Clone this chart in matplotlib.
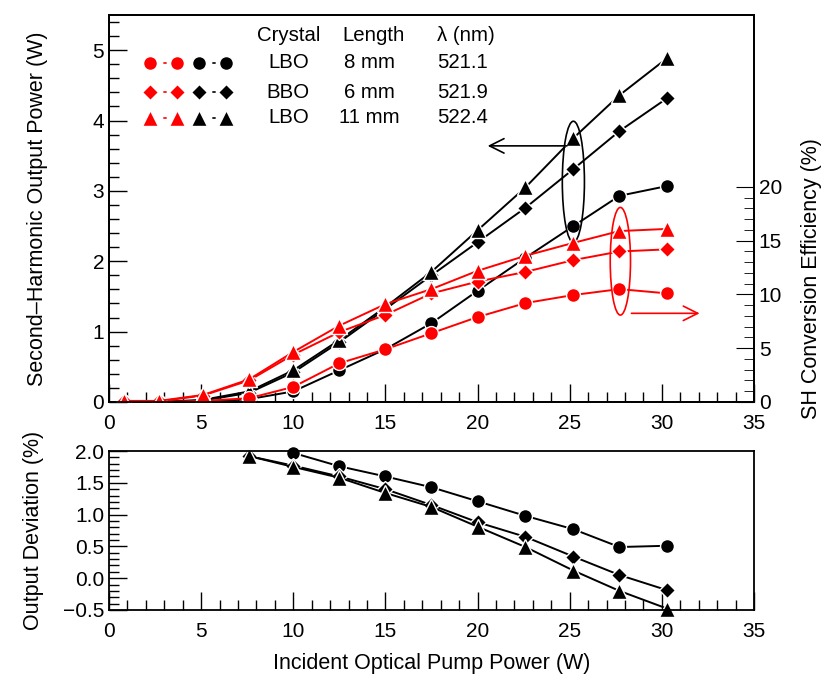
import numpy as np
import matplotlib
matplotlib.use("Agg")
import matplotlib.pyplot as plt
from matplotlib.patches import Ellipse
from matplotlib.ticker import MultipleLocator

plt.rcParams['font.family'] = ['Liberation Sans', 'DejaVu Sans']
plt.rcParams['font.size'] = 15

# incident pump power (W)
pump = [0.8, 2.7, 5.1, 7.6, 10.0, 12.5, 15.0, 17.5, 20.0, 22.6, 25.2, 27.7, 30.3]

# SH output power (W), left axis
power_lbo8 = [0.0, 0.0, 0.0, 0.04, 0.15, 0.45, 0.75, 1.12, 1.58, 2.05, 2.5, 2.93, 3.07]
power_bbo6 = [0.0, 0.0, 0.02, 0.13, 0.42, 0.85, 1.32, 1.8, 2.27, 2.76, 3.31, 3.85, 4.32]
power_lbo11 = [0.0, 0.0, 0.03, 0.15, 0.45, 0.88, 1.35, 1.85, 2.44, 3.05, 3.75, 4.36, 4.89]

# SH conversion efficiency (%), right axis
eff_lbo8 = [0.0, 0.0, 0.1, 0.35, 1.4, 3.6, 4.9, 6.4, 7.9, 9.2, 9.95, 10.5, 10.1]
eff_bbo6 = [0.05, 0.05, 0.6, 2.0, 4.4, 6.5, 8.1, 10.1, 11.2, 12.1, 13.2, 14.0, 14.2]
eff_lbo11 = [0.1, 0.1, 0.65, 2.1, 4.65, 7.1, 9.1, 10.5, 12.2, 13.6, 14.8, 15.9, 16.1]

# output deviation (%), lower panel
dev_pump = [7.6, 10.0, 12.5, 15.0, 17.5, 20.0, 22.6, 25.2, 27.7, 30.3]
dev_lbo8 = [np.nan, 1.97, 1.76, 1.6, 1.43, 1.21, 0.98, 0.77, 0.49, 0.51]
dev_bbo6 = [1.92, 1.77, 1.6, 1.4, 1.15, 0.88, 0.65, 0.34, 0.05, -0.19]
dev_lbo11 = [1.92, 1.75, 1.58, 1.34, 1.12, 0.81, 0.49, 0.12, -0.2, -0.48]

crystals = ["LBO", "BBO", "LBO"]
lengths = ["8 mm", "6 mm", "11 mm"]
wavelengths = ["521.1", "521.9", "522.4"]
markers = ["o", "D", "^"]
msizes = [10, 8.5, 11]

RED = "#ff0000"
EFF_MAX = 36.0
POW_MAX = 5.5


def style_ticks(ax):
    ax.tick_params(which="both", direction="in", top=False, right=False, labelsize=15)
    ax.tick_params(axis="x", which="both", pad=9)
    ax.tick_params(which="major", length=13, width=1)
    ax.tick_params(which="minor", length=7, width=1)


fig = plt.figure(figsize=(8.28, 6.82), dpi=100)
ax = fig.add_axes([0.1316, 0.4106, 0.779, 0.5674])
ax2 = ax.twinx()
axb = fig.add_axes([0.1316, 0.1056, 0.779, 0.2331])

# black = power (left axis)
for y, m, s in zip([power_lbo8, power_bbo6, power_lbo11], markers, msizes):
    ax.plot(pump, y, color="black", lw=1.4, marker=m, ms=s, mfc="black",
            mec="white", mew=1.0)

# red = efficiency (right axis)
for y, m, s in zip([eff_lbo8, eff_bbo6, eff_lbo11], markers, msizes):
    ax2.plot(pump, y, color=RED, lw=1.4, marker=m, ms=s, mfc=RED,
             mec="white", mew=1.0)

ax.set_xlim(0, 35)
ax.set_ylim(0, POW_MAX)
ax2.set_ylim(0, EFF_MAX)
ax.xaxis.set_major_locator(MultipleLocator(5))
ax.xaxis.set_minor_locator(MultipleLocator(1))
ax.yaxis.set_major_locator(MultipleLocator(1))
ax.yaxis.set_minor_locator(MultipleLocator(0.2))
ax2.set_yticks([0, 5, 10, 15, 20])
ax2.set_yticks(np.arange(0, 21, 1), minor=True)
style_ticks(ax)
ax2.tick_params(which="both", direction="in", right=True, labelsize=15)
ax2.tick_params(which="major", length=13)
ax2.tick_params(which="minor", length=7)

ax.set_ylabel("Second\u2013Harmonic Output Power (W)", fontsize=15.5)
ax.yaxis.set_label_coords(-0.095, 0.5)
ax2.set_ylabel("SH Conversion Efficiency (%)", fontsize=15.5)
ax2.yaxis.set_label_coords(1.073, 0.32)

# ellipses and arrows
arrow = dict(arrowstyle="->", lw=1.2, mutation_scale=26)
ax.add_patch(Ellipse((25.2, 3.13), 1.2, 1.72, fill=False, ec="black", lw=1.2, zorder=5))
ax.annotate("", xy=(20.4, 3.64), xytext=(25.0, 3.64),
            arrowprops=dict(arrow, color="black"))
k = EFF_MAX / POW_MAX
ax2.add_patch(Ellipse((27.75, 2.0 * k), 1.1, 1.53 * k, fill=False, ec=RED, lw=1.2, zorder=5))
ax2.annotate("", xy=(32.2, 1.26 * k), xytext=(28.2, 1.26 * k),
             arrowprops=dict(arrow, color=RED))

# legend table
rows_y = [0.876, 0.801, 0.734]
for yy, m, s in zip(rows_y, markers, msizes):
    ax2.plot([0.064, 0.105], [yy, yy], transform=ax2.transAxes, color=RED, lw=1.2,
             ls=(0, (2, 6)), marker=m, ms=s, mfc=RED, mec="white", mew=1.0)
    ax2.plot([0.14, 0.181], [yy, yy], transform=ax2.transAxes, color="black", lw=1.2,
             ls=(0, (2, 6)), marker=m, ms=s, mfc="black", mec="white", mew=1.0)
fs = 14.7
ax2.text(0.278, 0.948, "Crystal", transform=ax2.transAxes, ha="center", va="center", fontsize=fs)
ax2.text(0.41, 0.948, "Length", transform=ax2.transAxes, ha="center", va="center", fontsize=fs)
ax2.text(0.509, 0.948, "\u03bb (nm)", transform=ax2.transAxes, ha="left", va="center", fontsize=fs)
for yy, c, l, w in zip(rows_y, crystals, lengths, wavelengths):
    ax2.text(0.278, yy, c, transform=ax2.transAxes, ha="center", va="center", fontsize=fs)
    ax2.text(0.404, yy, l, transform=ax2.transAxes, ha="center", va="center", fontsize=fs)
    ax2.text(0.509, yy, w, transform=ax2.transAxes, ha="left", va="center", fontsize=fs)

# lower panel
for y, m, s in zip([dev_lbo8, dev_bbo6, dev_lbo11], markers, msizes):
    axb.plot(dev_pump, y, color="black", lw=1.4, marker=m, ms=s, mfc="black",
             mec="white", mew=1.0, clip_on=False)
axb.set_xlim(0, 35)
axb.set_ylim(-0.5, 2.0)
axb.xaxis.set_major_locator(MultipleLocator(5))
axb.xaxis.set_minor_locator(MultipleLocator(1))
axb.yaxis.set_major_locator(MultipleLocator(0.5))
axb.yaxis.set_minor_locator(MultipleLocator(0.1))
axb.yaxis.set_major_formatter(lambda v, p: f"{v:.1f}".replace("-", "\u2212"))
style_ticks(axb)
axb.set_ylabel("Output Deviation (%)", fontsize=15.5)
axb.yaxis.set_label_coords(-0.1, 0.5)
axb.set_xlabel("Incident Optical Pump Power (W)", fontsize=15.5, labelpad=8)

for a in (ax, ax2, axb):
    for sp in a.spines.values():
        sp.set_linewidth(1.3)

fig.savefig("out.png", dpi=100)
